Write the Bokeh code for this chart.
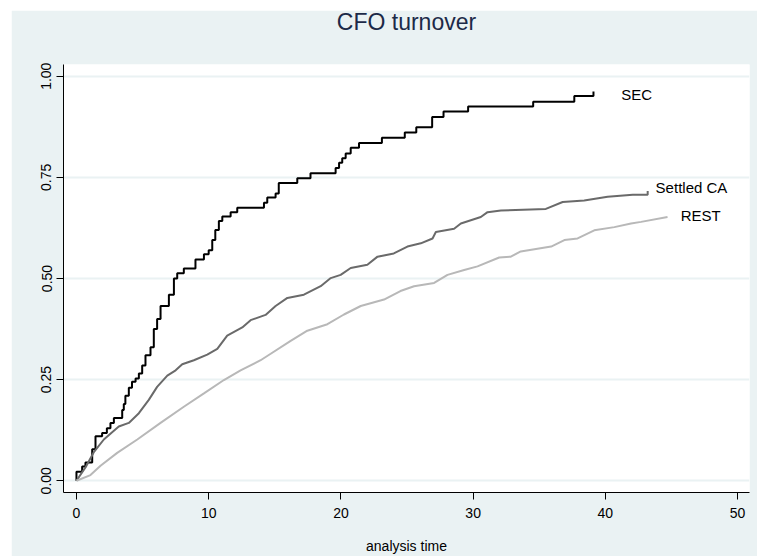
from bokeh.plotting import figure
from bokeh.models import Range1d, Label, Title, FixedTicker, PrintfTickFormatter
from bokeh.embed import file_html
from bokeh.resources import INLINE

# Kaplan-Meier failure estimates
sec_t = [0, 0, 0.43, 0.68, 1.19, 1.44, 1.94, 2.3, 2.57, 2.83, 3.46, 3.58, 3.7, 3.96, 4.2, 4.47,
         4.72, 4.97, 5.22, 5.6, 5.85, 6.1, 6.36, 6.99, 7.37, 7.62, 8.12, 9.0, 9.64, 10.0, 10.27,
         10.5, 10.77, 11.03, 11.66, 12.16, 14.18, 14.43, 15.06, 15.3, 16.7, 17.7, 19.6, 19.86,
         20.1, 20.36, 20.74, 21.37, 23.1, 24.83, 25.7, 26.9, 27.76, 29.62, 34.54, 37.65, 39.1]
sec_f = [0, 0.022, 0.035, 0.045, 0.078, 0.11, 0.118, 0.13, 0.143, 0.155, 0.175, 0.19, 0.21, 0.23,
         0.245, 0.253, 0.265, 0.285, 0.31, 0.33, 0.375, 0.40, 0.432, 0.46, 0.50, 0.513, 0.525,
         0.547, 0.56, 0.57, 0.595, 0.62, 0.642, 0.653, 0.664, 0.675, 0.687, 0.70, 0.71, 0.736,
         0.748, 0.76, 0.773, 0.786, 0.797, 0.809, 0.823, 0.835, 0.848, 0.861, 0.874, 0.899,
         0.913, 0.925, 0.937, 0.951, 0.962]

ca_t = [0, 0.68, 1.3, 2.07, 3.2, 3.96, 4.72, 5.47, 6.1, 6.87, 7.5, 8.0, 8.88, 9.89, 10.65,
        11.4, 12.54, 13.17, 14.3, 15.06, 15.95, 17.2, 18.47, 19.23, 19.98, 20.74, 22.0, 22.77,
        24.0, 25.03, 26.04, 26.93, 27.18, 28.56, 29.07, 30.58, 31.09, 32.1, 35.5, 36.77, 38.4,
        40.17, 42.07, 43.2, 43.2]
ca_f = [0, 0.033, 0.07, 0.102, 0.134, 0.143, 0.167, 0.2, 0.232, 0.26, 0.273, 0.288, 0.298,
        0.312, 0.326, 0.359, 0.379, 0.397, 0.41, 0.432, 0.452, 0.46, 0.481, 0.501, 0.509, 0.526,
        0.534, 0.554, 0.562, 0.579, 0.587, 0.599, 0.615, 0.623, 0.636, 0.652, 0.664, 0.668,
        0.672, 0.689, 0.693, 0.702, 0.707, 0.707, 0.716]

rest_t = [0, 1.06, 1.82, 3.08, 4.6, 6.36, 8.12, 9.64, 11.15, 12.41, 13.93, 14.69, 16.2, 17.46,
          18.98, 20.23, 21.5, 23.26, 24.5, 25.53, 27.05, 28.06, 29.32, 30.33, 31.97, 32.85, 33.6,
          35.9, 36.9, 37.9, 39.16, 40.68, 41.94, 42.7, 44.7]
rest_f = [0, 0.014, 0.037, 0.069, 0.102, 0.143, 0.183, 0.216, 0.249, 0.273, 0.298, 0.314,
          0.346, 0.371, 0.387, 0.411, 0.432, 0.448, 0.469, 0.481, 0.489, 0.509, 0.521, 0.53,
          0.552, 0.554, 0.567, 0.579, 0.595, 0.599, 0.619, 0.627, 0.636, 0.64, 0.652]

x_ticks = [0, 10, 20, 30, 40, 50]
y_ticks = [0, 0.25, 0.5, 0.75, 1.0]

FONT = "Liberation Sans"
BG = "#EAF2F3"

p = figure(width=746, height=546, output_backend="svg", toolbar_location=None,
           x_range=Range1d(-0.98, 50.9), y_range=Range1d(-0.029, 1.029),
           min_border_left=52, min_border_right=8, min_border_top=54, min_border_bottom=59,
           border_fill_color=BG, background_fill_color="white", outline_line_color=None)
p.margin = (10, 0, 0, 11)

# invisible spacer between the plot frame and the title, then the title itself
p.add_layout(Title(text=" ", text_font_size="10px", standoff=21, text_color=BG), "above")
p.add_layout(Title(text="CFO turnover", align="center", text_font=FONT, text_font_size="23px",
                   text_font_style="normal", text_color="#1C2A48", standoff=-8), "above")

p.step(sec_t, sec_f, mode="after", line_color="black", line_width=2)
p.line(ca_t, ca_f, line_color="#6A6A6A", line_width=2)
p.line(rest_t, rest_f, line_color="#B8B8B8", line_width=2)

for txt, x, y in [("SEC", 41.2, 0.954), ("Settled CA", 43.8, 0.724), ("REST", 45.7, 0.655)]:
    p.add_layout(Label(x=x, y=y, text=txt, text_font=FONT, text_font_size="15px",
                       text_baseline="middle", text_align="left", text_color="black"))

p.xgrid.visible = False
p.ygrid.ticker = FixedTicker(ticks=y_ticks)
p.ygrid.grid_line_color = BG
p.ygrid.grid_line_width = 2

p.xaxis.ticker = FixedTicker(ticks=x_ticks)
p.yaxis.ticker = FixedTicker(ticks=y_ticks)
p.yaxis.formatter = PrintfTickFormatter(format="%.2f")
p.yaxis.major_label_orientation = "vertical"

for ax in (p.xaxis, p.yaxis):
    ax.axis_line_color = "black"
    ax.major_tick_line_color = "black"
    ax.major_tick_out = 7
    ax.major_tick_in = 0
    ax.minor_tick_out = 0
    ax.minor_tick_in = 0
    ax.major_label_text_font = FONT
    ax.major_label_text_font_size = "14px"
    ax.major_label_text_color = "black"
    ax.major_label_standoff = 5
p.xaxis.major_label_standoff = 8

p.xaxis.axis_label = "analysis time"
p.xaxis.axis_label_text_font = FONT
p.xaxis.axis_label_text_font_size = "14px"
p.xaxis.axis_label_text_font_style = "normal"
p.xaxis.axis_label_text_color = "black"
p.xaxis.axis_label_standoff = 17

open("out.html", "w").write(file_html(p, INLINE))
